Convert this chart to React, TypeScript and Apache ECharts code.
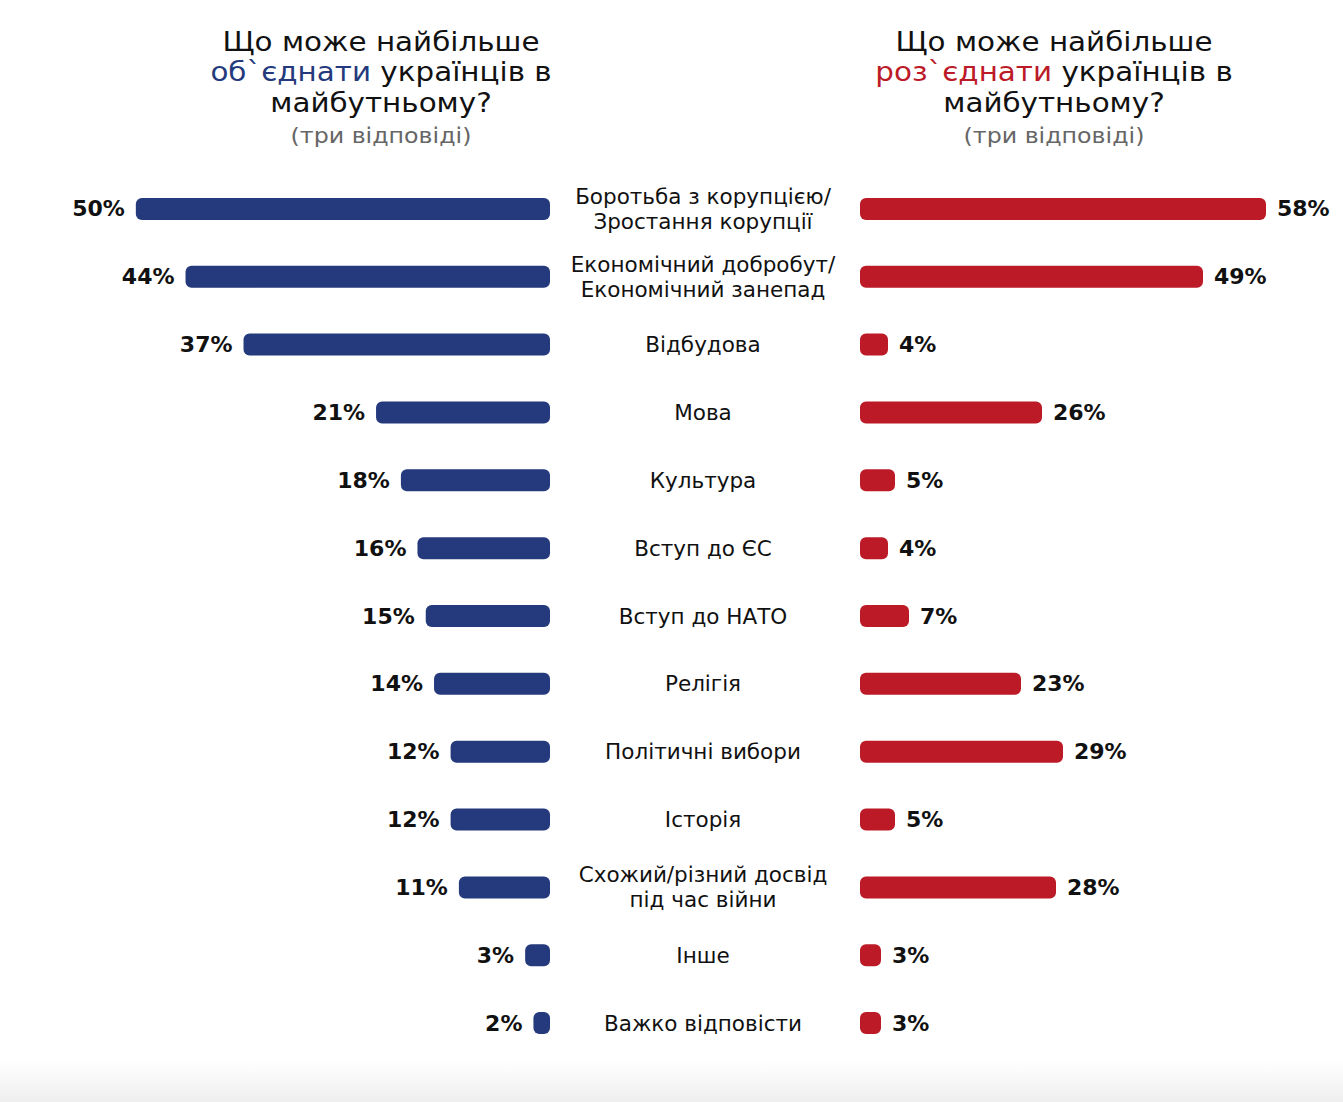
import React, { useEffect, useRef } from "react";
import * as echarts from "echarts";

const categories = [
  "Боротьба з корупцією/\nЗростання корупції",
  "Економічний добробут/\nЕкономічний занепад",
  "Відбудова",
  "Мова",
  "Культура",
  "Вступ до ЄС",
  "Вступ до НАТО",
  "Релігія",
  "Політичні вибори",
  "Історія",
  "Схожий/різний досвід\nпід час війни",
  "Інше",
  "Важко відповісти",
];
const uniteValues = [50, 44, 37, 21, 18, 16, 15, 14, 12, 12, 11, 3, 2];
const divideValues = [58, 49, 4, 26, 5, 4, 7, 23, 29, 5, 28, 3, 3];

const BLUE = "#243a7c";
const RED = "#bc1a27";
const FONT = "DejaVu Sans";

export default function App() {
  const ref = useRef<HTMLDivElement>(null);
  useEffect(() => {
    if (!ref.current) return;
    const chart = echarts.init(ref.current, undefined, { renderer: "svg" });
    const valueLabel = {
      show: true,
      formatter: "{c}%",
      fontFamily: FONT,
      fontWeight: "bold" as const,
      fontSize: 22,
      color: "#111",
      distance: 11,
    };
    const TS = 26;
    const SX = 1.13;
    const titleLines = (cx: number, word: string, color: string) => [
      {
        type: "text",
        x: cx,
        y: 42,
        scaleX: SX,
        style: { text: "Що може найбільше", align: "center", verticalAlign: "middle", fontFamily: FONT, fontSize: TS, fill: "#111" },
      },
      {
        type: "text",
        x: cx,
        y: 72.5,
        scaleX: SX,
        style: {
          text: "{c|" + word + "} українців в",
          align: "center",
          verticalAlign: "middle",
          fontFamily: FONT,
          fontSize: TS,
          fill: "#111",
          rich: { c: { fill: color, fontFamily: FONT, fontSize: TS } },
        },
      },
      {
        type: "text",
        x: cx,
        y: 103,
        scaleX: SX,
        style: { text: "майбутньому?", align: "center", verticalAlign: "middle", fontFamily: FONT, fontSize: TS, fill: "#111" },
      },
      {
        type: "text",
        x: cx,
        y: 136,
        scaleX: SX,
        style: { text: "(три відповіді)", align: "center", verticalAlign: "middle", fontFamily: FONT, fontSize: 21, fill: "#666" },
      },
    ];
    chart.setOption({
      animation: false,
      backgroundColor: "#ffffff",
      grid: [
        { left: 53, right: 793, top: 175, bottom: 45, containLabel: false },
        { left: 860, right: 63, top: 175, bottom: 45, containLabel: false },
      ],
      xAxis: [
        { type: "value", gridIndex: 0, min: 0, max: 60, inverse: true, show: false },
        { type: "value", gridIndex: 1, min: 0, max: 60, show: false },
      ],
      yAxis: [
        {
          type: "category",
          gridIndex: 0,
          data: categories,
          inverse: true,
          axisLine: { show: false },
          axisTick: { show: false },
          axisLabel: { show: false },
        },
        {
          type: "category",
          gridIndex: 1,
          data: categories,
          inverse: true,
          axisLine: { show: false },
          axisTick: { show: false },
          axisLabel: {
            show: true,
            align: "center",
            margin: 157,
            fontFamily: FONT,
            fontSize: 21.5,
            lineHeight: 25,
            color: "#111",
          },
        },
      ],
      series: [
        {
          type: "bar",
          xAxisIndex: 0,
          yAxisIndex: 0,
          data: uniteValues,
          barWidth: 22,
          itemStyle: { color: BLUE, borderRadius: 6 },
          label: { ...valueLabel, position: "left" },
        },
        {
          type: "bar",
          xAxisIndex: 1,
          yAxisIndex: 1,
          data: divideValues,
          barWidth: 22,
          itemStyle: { color: RED, borderRadius: 6 },
          label: { ...valueLabel, position: "right" },
        },
      ],
      graphic: [
        {
          type: "rect",
          left: 0,
          top: 1060,
          shape: { x: 0, y: 0, width: 1343, height: 42 },
          style: {
            fill: new echarts.graphic.LinearGradient(0, 0, 0, 1, [
              { offset: 0, color: "rgba(240,240,240,0)" },
              { offset: 1, color: "rgba(238,238,238,1)" },
            ]),
          },
          silent: true,
        },
        ...titleLines(381, "об`єднати", BLUE),
        ...titleLines(1054, "роз`єднати", RED),
      ],
    });
    return () => chart.dispose();
  }, []);
  return (
    <div
      ref={ref}
      style={{ position: "absolute", left: 0, top: 0, width: 1343, height: 1102 }}
    />
  );
}
